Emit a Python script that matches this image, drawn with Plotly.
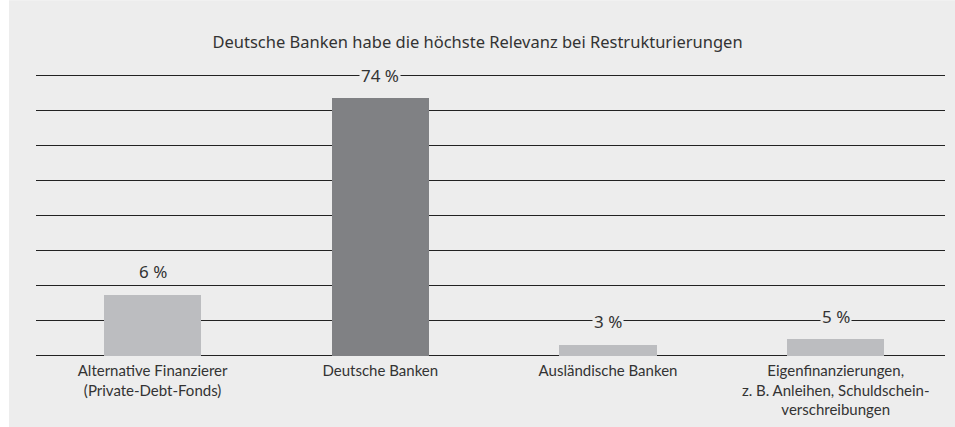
import plotly.graph_objects as go

categories = [
    "Alternative Finanzierer<br>(Private-Debt-Fonds)",
    "Deutsche Banken",
    "Ausländische Banken",
    "Eigenfinanzierungen,<br>z. B. Anleihen, Schuldschein-<br>verschreibungen",
]
bar_heights = [17.4, 73.5, 3.1, 4.6]
value_labels = ["6 %", "74 %", "3 %", "5 %"]
bar_colors = ["#bcbdc0", "#808184", "#bcbdc0", "#bcbdc0"]
y_ticks = [0, 10, 20, 30, 40, 50, 60, 70, 80]
title_text = "Deutsche Banken habe die höchste Relevanz bei Restrukturierungen"

xpos = list(range(len(categories)))

fig = go.Figure()
fig.add_trace(go.Bar(
    x=xpos, y=bar_heights, width=0.426,
    marker=dict(color=bar_colors, line=dict(width=0)),
    hoverinfo="skip",
))

for xi, h, lab in zip(xpos, bar_heights, value_labels):
    fig.add_annotation(
        x=xi, y=h, text=lab, showarrow=False, yanchor="middle", yshift=23,
        font=dict(family="Noto Sans, Open Sans, sans-serif", size=17, color="#333333"),
        bgcolor="#ededed", borderpad=1,
    )

# gray panel
fig.add_shape(type="rect", xref="paper", yref="paper",
              x0=-0.0297, x1=1.02, y0=-0.25, y1=1.25,
              fillcolor="#ededed", line=dict(width=0), layer="below")

fig.update_layout(
    width=955, height=427,
    margin=dict(l=36, r=10, t=72, b=68, autoexpand=False),
    paper_bgcolor="white", plot_bgcolor="#ededed",
    showlegend=False, bargap=0,
    title=dict(text=title_text, x=0.5, xref="container", xanchor="center",
               y=1 - 42/427, yanchor="middle",
               font=dict(family="Noto Sans, Open Sans, sans-serif", size=16.5, color="#333333")),
    xaxis=dict(range=[-0.512, 3.48], tickvals=xpos, ticktext=categories,
               showgrid=False, zeroline=False, showline=False, ticks="",
               ticklabelstandoff=1, automargin=False,
               tickfont=dict(family="Lato, sans-serif", size=15, color="#333333"),
               fixedrange=True),
    yaxis=dict(range=[-1, 81], tickvals=y_ticks, showticklabels=False,
               showgrid=True, gridcolor="#222222", gridwidth=1.4,
               zeroline=False, showline=False, ticks="", fixedrange=True,
               automargin=False),
)

fig.write_html("out.html")
